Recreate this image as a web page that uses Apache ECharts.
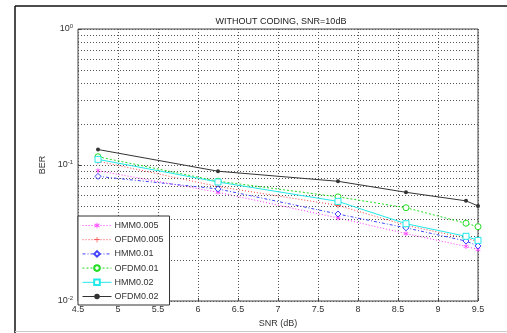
<!DOCTYPE html>
<html><head><meta charset="utf-8">
<script src="https://cdn.jsdelivr.net/npm/echarts@6/dist/echarts.min.js"></script>
<style>html,body{margin:0;padding:0;background:#fff}#c{width:507px;height:333px}</style>
</head><body><div id="c"></div>
<script>
var snr = [4.75, 6.25, 7.75, 8.6, 9.35, 9.5];
var hmm005  = [0.0907, 0.0630, 0.0408, 0.0313, 0.0252, 0.0239];
var ofdm005 = [0.1066, 0.0694, 0.0505, 0.0360, 0.0290, 0.0273];
var hmm01   = [0.0825, 0.0667, 0.0436, 0.0345, 0.0276, 0.0254];
var ofdm01  = [0.1150, 0.0760, 0.0583, 0.0485, 0.0373, 0.0352];
var hmm02   = [0.1100, 0.0750, 0.0540, 0.0370, 0.0299, 0.0279];
var ofdm02  = [0.1300, 0.0900, 0.0759, 0.0630, 0.0545, 0.0500];
var names = ['HMM0.005','OFDM0.005','HMM0.01','OFDM0.01','HMM0.02','OFDM0.02'];
var minorY = [0.02,0.03,0.04,0.05,0.06,0.07,0.08,0.09,0.2,0.3,0.4,0.5,0.6,0.7,0.8,0.9];
var xTitle = 'SNR (dB)', yTitle = 'BER', title = 'WITHOUT CODING, SNR=10dB';

function pairs(v){ return snr.map(function(x,i){ return [x, v[i]]; }); }
var FONT = 'Liberation Sans';
var plus = 'path://M4.4,0H5.6V4.4H10V5.6H5.6V10H4.4V5.6H0V4.4H4.4Z';
var star = 'path://M4.4,0H5.6V3.6L8.8,1.6L9.4,2.6L6.2,4.6V5.4L9.4,7.4L8.8,8.4L5.6,6.4V10H4.4V6.4L1.2,8.4L0.6,7.4L3.8,5.4V4.6L0.6,2.6L1.2,1.6L4.4,3.6Z';
var defs = [
 {d:hmm005, c:'#ff33ff', t:[1,2], s:star, sz:5, fill:true},
 {d:ofdm005, c:'#ff4040', t:[1,2], s:plus, sz:6, fill:true},
 {d:hmm01, c:'#4444ff', t:[3,2,1,2], s:'diamond', sz:6, fill:false},
 {d:ofdm01, c:'#22dd22', t:[2,2], s:'circle', sz:6, fill:false},
 {d:hmm02, c:'#22e8e8', t:'solid', s:'rect', sz:6, fill:false},
 {d:ofdm02, c:'#333333', t:'solid', s:'circle', sz:4, fill:true}
];
var series = defs.map(function(o,i){
  return {
    name:names[i], type:'line', data:pairs(o.d), symbol:o.s, symbolSize:o.sz,
    showAllSymbol:true, animation:false, z:3+i,
    lineStyle:{color:o.c, width:1, type:o.t},
    itemStyle:{color:o.fill?o.c:'#fff', borderColor:o.c, borderWidth:o.fill?0:1}
  };
});
series.push({
  type:'line', data:[], silent:true, animation:false, z:1,
  markLine:{silent:true, symbol:['none','none'], label:{show:false}, animation:false,
    lineStyle:{color:'#555', width:1, type:[1,2]},
    data:minorY.map(function(v){ return {yAxis:v}; })}
});
var chart = echarts.init(document.getElementById('c'));
chart.setOption({
  backgroundColor:'#fff', animation:false,
  title:{text:title, left:276, top:12, textAlign:'center',
    textStyle:{fontFamily:FONT, fontSize:9, fontWeight:'normal', color:'#222'}},
  graphic:[
    {type:'line', shape:{x1:15,y1:6,x2:507,y2:6}, style:{stroke:'#111', lineWidth:1.5}},
    {type:'line', shape:{x1:15,y1:6,x2:15,y2:333}, style:{stroke:'#111', lineWidth:1.5}},
    {type:'line', shape:{x1:15,y1:331.5,x2:507,y2:331.5}, style:{stroke:'#ccc', lineWidth:1}}
  ],
  grid:{left:78, right:29, top:29, bottom:29, show:true, borderColor:'#444', borderWidth:1, backgroundColor:'#fff'},
  legend:{orient:'vertical', left:78, top:216, data:names, z:50,
    backgroundColor:'#fff', borderColor:'#333', borderWidth:1, borderRadius:0,
    padding:[5,6,4,4], itemWidth:29, itemHeight:7, itemGap:5.2,
    lineStyle:{width:1},
    textStyle:{fontFamily:FONT, fontSize:9, color:'#333', padding:[0,0,0,-2]}},
  xAxis:{type:'value', min:4.5, max:9.5, interval:0.5,
    name:xTitle, nameLocation:'middle', nameGap:18,
    nameTextStyle:{fontFamily:FONT, fontSize:9, color:'#333'},
    axisLine:{show:false}, axisTick:{show:true, inside:true, length:3, lineStyle:{color:'#444'}},
    axisLabel:{fontFamily:FONT, fontSize:9, color:'#333', margin:4},
    splitLine:{show:true, lineStyle:{color:'#555', width:1, type:[1,2]}}},
  yAxis:{type:'log', logBase:10, min:0.01, max:1,
    name:yTitle, nameLocation:'middle', nameGap:25,
    nameTextStyle:{fontFamily:FONT, fontSize:9, color:'#333'},
    axisLine:{show:false}, axisTick:{show:true, inside:true, length:3, lineStyle:{color:'#444'}},
    axisLabel:{fontFamily:FONT, fontSize:9, color:'#333', margin:5,
      formatter:function(v){ var e=Math.round(Math.log10(v)); return '10{s|'+e+'}'; },
      rich:{s:{fontSize:6, verticalAlign:'top', padding:[0,0,6,0], fontFamily:FONT, color:'#333'}}},
    splitLine:{show:true, lineStyle:{color:'#555', width:1, type:[1,2]}}},
  series:series
});
</script></body></html>
